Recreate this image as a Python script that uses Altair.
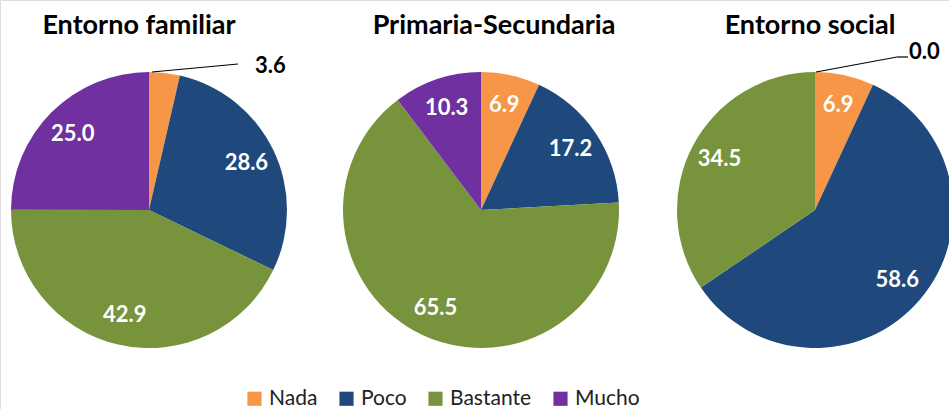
import altair as alt
import pandas as pd

categories = ["Nada", "Poco", "Bastante", "Mucho"]
colors = ["#F79646", "#1F497D", "#77933C", "#7030A0"]
titles = ["Entorno familiar", "Primaria-Secundaria", "Entorno social"]
familiar = [3.6, 28.6, 42.9, 25.0]
primaria = [6.9, 17.2, 65.5, 10.3]
social = [6.9, 58.6, 34.5, 0.0]

FONT = "Lato"
R = 138
CY = 210
centers = [149, 481, 815]
title_x = [139, 494, 810]
# outside label annotation: (label x, label y, leader line points) or None
outside = [
    (255, 66, [(152, 72), (238, 64)]),
    None,
    (909, 52, [(816, 72), (897, 57), (908, 57)]),
]

color_scale = alt.Scale(domain=categories, range=colors)

layers = []
for i, (title, vals, cx, tx, out) in enumerate(
    zip(titles, [familiar, primaria, social], centers, title_x, outside)
):
    df = pd.DataFrame({"cat": categories, "v": vals, "idx": list(range(len(vals)))})
    base = alt.Chart(df).encode(
        theta=alt.Theta("v:Q", stack="normalize"),
        order=alt.Order("idx:Q"),
    )
    if i == 0:
        legend = alt.Legend(
            title=None,
            orient="none",
            direction="horizontal",
            legendX=244,
            legendY=388,
            symbolType="square",
            symbolSize=200,
            symbolStrokeWidth=0,
            labelFont=FONT,
            labelFontSize=21,
            labelColor="#222222",
            labelOffset=4,
            columnPadding=18,
        )
        color = alt.Color("cat:N", scale=color_scale, legend=legend)
    else:
        color = alt.Color("cat:N", scale=color_scale, legend=None)
    arc = base.mark_arc(radius=R).encode(
        color=color, x=alt.value(cx), y=alt.value(CY)
    )
    txt = base.transform_calculate(
        lab="datum.v >= 5 ? format(datum.v, '.1f') : ''"
    ).mark_text(
        radius=108, font=FONT, fontWeight="bold", fontSize=22, color="white"
    ).encode(text="lab:N", x=alt.value(cx), y=alt.value(CY))
    ttl = alt.Chart(pd.DataFrame({"t": [title]})).mark_text(
        font=FONT, fontWeight="bold", fontSize=27, color="black"
    ).encode(text="t:N", x=alt.value(tx), y=alt.value(26))
    layers += [arc, txt, ttl]
    if out is not None:
        lx, ly, pts = out
        small = alt.Chart(df).transform_filter("datum.v < 5").mark_text(
            font=FONT, fontWeight="bold", fontSize=22, color="black", align="left"
        ).encode(text=alt.Text("v:Q", format=".1f"), x=alt.value(lx), y=alt.value(ly))
        layers.append(small)
        for (x1, y1), (x2, y2) in zip(pts[:-1], pts[1:]):
            rule = alt.Chart(pd.DataFrame({"a": [0]})).mark_rule(
                color="black", strokeWidth=1.2
            ).encode(
                x=alt.value(x1), y=alt.value(y1), x2=alt.value(x2), y2=alt.value(y2)
            )
            layers.append(rule)

chart = alt.layer(*layers).properties(
    width=949, height=409, padding=0, autosize="none"
).configure_view(stroke=None).configure(background="white")

chart.save("out.html", embed_options={"renderer": "svg", "actions": False})
